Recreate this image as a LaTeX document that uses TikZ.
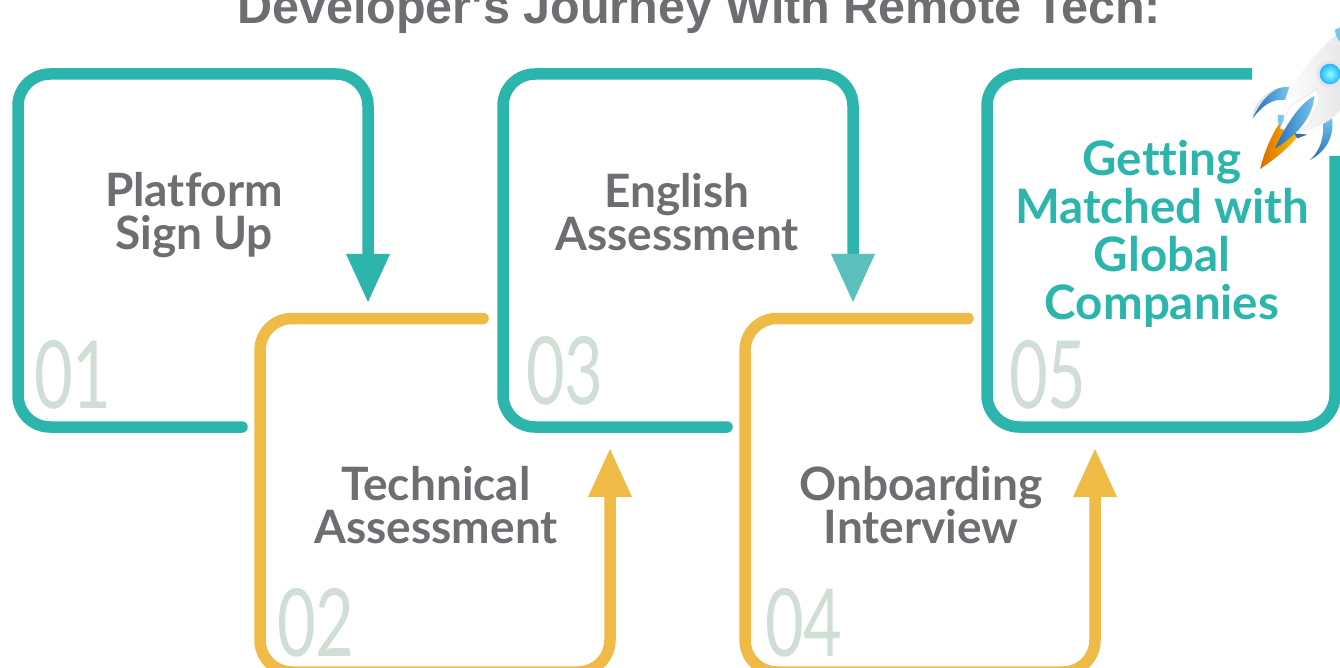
\documentclass[tikz,border=0pt]{standalone}
\usepackage{fontspec}
\setmainfont[Ligatures=NoCommon]{Lato}
\usetikzlibrary{arrows.meta}
\newfontfamily\titlefont{Liberation Sans}
\newfontfamily\digitfont[FakeStretch=0.71]{Lato}
\definecolor{teal0}{HTML}{2BB5AC}
\definecolor{teal1}{HTML}{5BBFBC}
\definecolor{gold0}{HTML}{EFBA46}
\definecolor{grey0}{HTML}{6D6E71}
\definecolor{digit0}{HTML}{D0DED6}
\definecolor{finlight}{HTML}{72C8EE}
\definecolor{findark}{HTML}{2A6DB8}
\tikzset{
  track/.style={line width=11.5pt,line cap=round,rounded corners=32pt,line join=round},
  tealtrack/.style={track,draw=teal0},
  goldtrack/.style={track,draw=gold0},
  downhead/.style={-{Triangle[length=48pt,width=44pt,fill=#1,color=#1,line width=0pt]}},
  steplabel/.style={text=grey0,font=\fontsize{46}{43}\selectfont\bfseries,align=center,anchor=center},
  numlabel/.style={text=digit0,font=\digitfont\fontsize{94}{94}\selectfont,anchor=base west,inner sep=0pt},
}
\begin{document}
\begin{tikzpicture}[x=1pt,y=-1pt]
\useasboundingbox (0,0) rectangle (1340,668);
\fill[white] (0,0) rectangle (1340,668);
\begin{scope}
\clip (0,0) rectangle (1340,668);
\node[text=grey0,anchor=base,inner sep=0pt,font=\titlefont\bfseries\fontsize{48.5}{48.5}\selectfont] (title) at (699,24) {Developer's Journey With Remote Tech:};

% named ends
\coordinate (t1) at (368,302);
\coordinate (t2) at (610,449);
\coordinate (t3) at (853,302);
\coordinate (t4) at (1095,449);

\draw[tealtrack,downhead=teal0] (242,427) -- (18,427) -- (18,74) -- (368,74) -- (t1);
\draw[goldtrack,downhead=gold0] (483,318.5) -- (260,318.5) -- (260,672) -- (610,672) -- (t2);
\draw[tealtrack,downhead=teal1] (727,427) -- (503,427) -- (503,74) -- (853,74) -- (t3);
\draw[goldtrack,downhead=gold0] (968,318.5) -- (745,318.5) -- (745,672) -- (1095,672) -- (t4);
\draw[track,draw=teal0,line cap=butt] (1252,74) -- (987,74) -- (987,427) -- (1335,427) -- (1335,156);

\node[steplabel] (s1) at (194,215) {Platform\\Sign Up};
\node[steplabel] (s2) at (436,505) {Technical\\Assessment};
\node[steplabel] (s3) at (677,212) {English\\Assessment};
\node[steplabel] (s4) at (921,505) {Onboarding\\Interview};
\node[steplabel,text=teal0,font=\fontsize{47.5}{48}\selectfont\bfseries] (s5) at (1162,234) {Getting\\Matched with\\Global\\Companies};

\node[numlabel] (n1) at (34,408) {01};
\node[numlabel] (n2) at (277,656) {02};
\node[numlabel] (n3) at (526,404) {03};
\node[numlabel] (n4) at (765,656) {04};
\node[numlabel] (n5) at (1009,408) {05};

% rocket
\begin{scope}[shift={(1200,0)},x=0.3333pt,y=-0.3333pt]
  \shade[left color=orange!85!black,right color=yellow!45!orange] (180,507) .. controls (195,450) and (215,405) .. (237,372) -- (292,410) .. controls (260,450) and (220,480) .. cycle;
  \fill[finlight] (233,345) -- (252,345) -- (248,380) -- (235,372) -- cycle;
  \shade[left color=findark,right color=finlight] (158,355) .. controls (165,310) and (200,262) .. (268,260) -- (255,300) .. controls (215,295) and (185,320) .. cycle;
  \fill[gray!20] (158,355) .. controls (165,310) and (200,268) .. (240,262) .. controls (200,280) and (175,315) .. cycle;
  \shade[top color=finlight,bottom color=findark] (330,480) .. controls (372,440) and (372,390) .. (368,355) -- (395,350) .. controls (405,400) and (385,450) .. cycle;
  \shade[left color=white,right color=gray!18,draw=gray!12,line width=0.3pt] (250,330) .. controls (270,260) and (330,170) .. (420,95) -- (420,330) .. controls (395,360) and (370,375) .. (300,398) .. controls (270,390) and (250,365) .. cycle;
  \fill[finlight] (405,90) -- (420,82) -- (420,125) .. controls (410,115) and (405,100) .. cycle;
  \fill[gray!20] (390,222) circle[radius=40];
  \shade[inner color=cyan!45,outer color=blue!35!cyan!85] (390,222) circle[radius=31];
  \fill[white,draw=gray!25,line width=0.4pt] (240,385) -- (270,320) -- (350,268) -- (358,300) -- (325,375) -- (280,400) -- cycle;
  \shade[left color=findark,right color=finlight] (225,445) .. controls (260,370) and (300,310) .. (343,288) .. controls (340,335) and (310,395) .. cycle;
  \fill[findark] (282,400) -- (322,404) -- (292,415) -- cycle;
\end{scope}
\end{scope}
\end{tikzpicture}
\end{document}
